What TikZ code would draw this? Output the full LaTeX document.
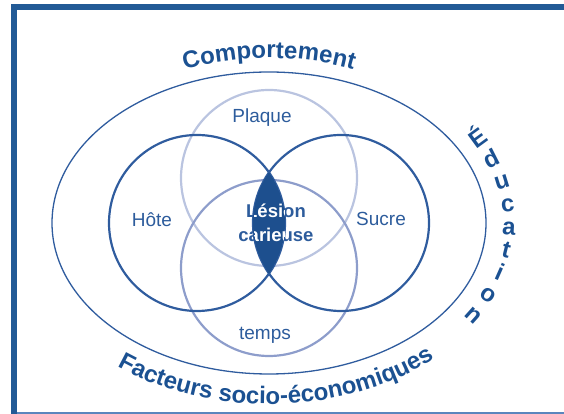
\documentclass[tikz,border=0pt]{standalone}
\usepackage{fontspec}
\setmainfont{Liberation Sans}
\usetikzlibrary{calc,decorations.text}

\definecolor{frameblue}{HTML}{225A96}
\definecolor{lineblue}{HTML}{5A85BD}
\definecolor{titleblue}{HTML}{1B5192}
\definecolor{darkring}{HTML}{2F5C9E}
\definecolor{midring}{HTML}{8D9DCB}
\definecolor{lightring}{HTML}{BAC4E0}
\definecolor{lensblue}{HTML}{1D4F8E}
\definecolor{labelblue}{HTML}{2D5C9C}

\newcommand{\bigfont}{\bfseries\fontsize{24}{24}\selectfont}

\tikzset{
	ring/.style={draw,circle,minimum size=176pt,inner sep=0pt,line width=2.2pt},
	lbl/.style={text=labelblue,font=\fontsize{19}{22}\selectfont},
	centre/.style={align=center,font=\bfseries\fontsize{18.5}{24}\selectfont},
	bigtxt/.style={text=titleblue,font=\bigfont,inner sep=0pt}
}

\begin{document}
\begin{tikzpicture}[x=1pt,y=1pt]
	\useasboundingbox (0,0) rectangle (564,414);
	% frame
	\draw[frameblue,line width=6pt] (14,0) -- (14,407) -- (564,407);
	\draw[lineblue,line width=1.5pt] (17,1) -- (564,1);

	\coordinate (o) at (269,191);
	\draw[darkring,line width=1.3pt] (o) ellipse[x radius=217,y radius=151];

	\node[ring,lightring](plaque) at (269,236){};
	\node[ring,midring](temps) at (269,146){};
	\node[ring,darkring](hote) at (197,191){};
	\node[ring,darkring](sucre) at (341,191){};

	\node[lbl](plaquelbl) at (262,296){Plaque};
	\node[lbl](hotelbl) at (152,194){Hôte};
	\node[lbl](sucrelbl) at (381,195){Sucre};
	\node[lbl](tempslbl) at (265,79){temps};

	% lesion
	\node[centre,text=labelblue](lesion) at (276,191){Lésion\\carieuse};
	\begin{scope}
		\clip (hote.center) circle[radius=88];
		\clip (sucre.center) circle[radius=88];
		\fill[lensblue] (hote.center) circle[radius=88];
		\node[centre,text=white](lesionw) at (276,191){Lésion\\carieuse};
	\end{scope}

	% outer texts
	\path[decorate,decoration={text along path,text align=center,
		text={|\bigfont\color{titleblue}|Comportement}}]
		($(o)+(150:230 and 165)$) arc[start angle=150,end angle=30,x radius=230,y radius=165];
	\path[decorate,decoration={text along path,text align=center,
		text={|\bigfont\color{titleblue}|Facteurs socio-économiques}}]
		($(o)+(190:250 and 181)$) arc[start angle=190,end angle=355,x radius=250,y radius=181];
	\foreach \ch [count=\i] in {É,d,u,c,a,t,i,o,n}{
		\pgfmathsetmacro\ang{35.4-7.6*\i}
		\pgfmathsetmacro\rot{atan(240*tan(\ang)/174)}
		\node[bigtxt,anchor=mid,rotate=\rot](edu\i) at ({269+240*cos(\ang)},{190+174*sin(\ang)}){\ch};
	}
\end{tikzpicture}
\end{document}
